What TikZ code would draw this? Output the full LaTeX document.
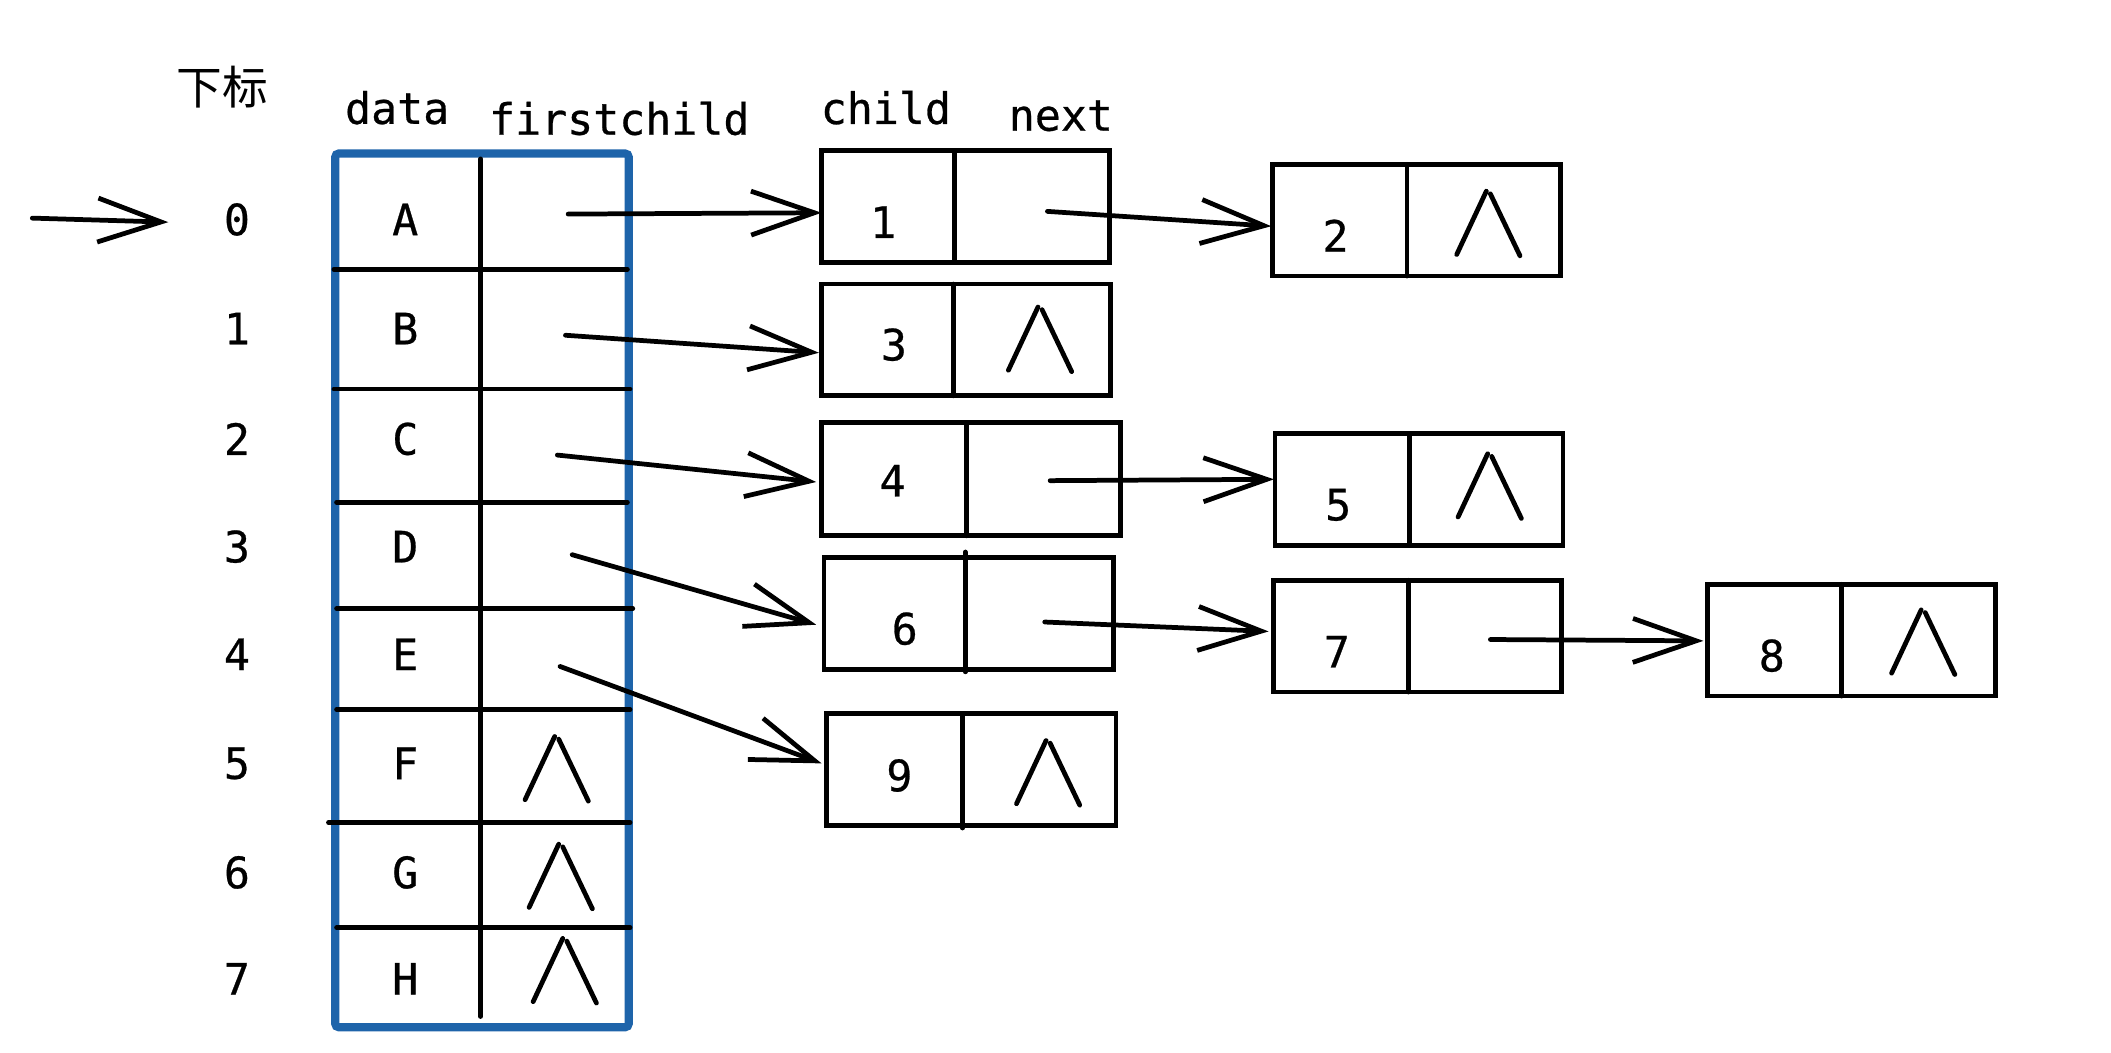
\documentclass[tikz,border=0pt]{standalone}
\usepackage{fontspec}
\newfontfamily\monof[FakeBold=0.6]{DejaVu Sans Mono}
\newfontfamily\cjkf{Noto Sans CJK SC}
\usetikzlibrary{arrows.meta,fit,calc}
\definecolor{tblue}{RGB}{30,100,170}
\begin{document}
\begin{tikzpicture}[x=0.013463cm,y=-0.013463cm,
  txt/.style={font=\monof\fontsize{12.3}{14}\selectfont, inner sep=0},
  ln/.style={line width=1.35pt, line cap=round},
  arr/.style={ln, -{Straight Barb[length=18pt,width=12.5pt,line width=1.35pt]}},
  box/.style={draw, line width=1.35pt, inner sep=0},
  nullmark/.pic={\draw[ln] (-23,23) -- (-1,-24); \draw[ln] (2,-22) -- (24,24);}
]
\useasboundingbox (0,0) rectangle (1568,781.4);

% headers
\node[font=\cjkf\fontsize{13}{15}\selectfont, inner sep=0] (hidx) at (165,65) {下标};
\node[txt] (hdata) at (295,80) {data};
\node[txt] (hfc) at (460,88) {firstchild};
\node[txt] (hchild) at (658,80) {child};
\node[txt] (hnext) at (788,86) {next};

% table
\node[fit={(249,114)(467,763)}, draw=tblue, line width=2.3pt, inner sep=0, rounded corners=1pt] (tbl) {};
\draw[ln] (357,118) -- (357,755);
\draw[ln] (248,200) -- (466,200);
\draw[ln] (248,289) -- (468,289);
\draw[ln] (250,373) -- (466,373);
\draw[ln] (250,452) -- (470,452);
\draw[ln] (250,527) -- (468,527);
\draw[ln] (244,611) -- (468,611);
\draw[ln] (250,689) -- (468,689);

% indices and data
\foreach \i/\L/\y in {0/A/163,1/B/244,2/C/326,3/D/406,4/E/486,5/F/567,6/G/648,7/H/727}{
  \node[txt] (i\i) at (176,\y) {\i};
  \node[txt] (d\L) at (301,\y) {\L};
}
\pic at (413,571) {nullmark};
\pic at (416,651) {nullmark};
\pic at (419,721) {nullmark};

% entry arrow
\coordinate (s0) at (24,162);
\coordinate (e0) at (125,165);
\draw[arr] (s0) -- (e0);

% child boxes
\node[box, fit={(610,112)(824,195)}] (b1) {};
\draw[ln] (709,112) -- (709,195);
\node[txt] (t1) at (656,165) {1};

\node[box, fit={(945,122)(1159,205)}] (b2) {};
\draw[ln] (1045,122) -- (1045,205);
\node[txt] (t2) at (992,175) {2};
\pic at (1105,166) {nullmark};

\node[box, fit={(610,211)(825,294)}] (b3) {};
\draw[ln] (708,211) -- (708,294);
\node[txt] (t3) at (664,256) {3};
\pic at (772,252) {nullmark};

\node[box, fit={(610,314)(832,398)}] (b4) {};
\draw[ln] (718,314) -- (718,398);
\node[txt] (t4) at (663,357) {4};

\node[box, fit={(947,322)(1161,405)}] (b5) {};
\draw[ln] (1047,322) -- (1047,405);
\node[txt] (t5) at (994,375) {5};
\pic at (1106,361) {nullmark};

\node[box, fit={(612,414)(827,497)}] (b6) {};
\draw[ln] (717,410) -- (717,499);
\node[txt] (t6) at (672,467) {6};

\node[box, fit={(946,431)(1160,514)}] (b7) {};
\draw[ln] (1046,431) -- (1046,514);
\node[txt] (t7) at (993,484) {7};

\node[box, fit={(1268,434)(1482,517)}] (b8) {};
\draw[ln] (1368,434) -- (1368,517);
\node[txt] (t8) at (1316,487) {8};
\pic at (1428,477) {nullmark};

\node[box, fit={(614,530)(829,613)}] (b9) {};
\draw[ln] (715,530) -- (715,615);
\node[txt] (t9) at (668,576) {9};
\pic at (778,574) {nullmark};

% pointers
\coordinate (pA) at (422,159);
\coordinate (pB) at (420,249);
\coordinate (pC) at (414,338);
\coordinate (pD) at (425,412);
\coordinate (pE) at (416,495);
\coordinate (p1) at (778,157);
\coordinate (p4) at (780,357);
\coordinate (p6) at (776,462);
\coordinate (p7) at (1107,475);

\draw[arr] (pA) -- ($(b1.west)+(2,4.5)$);
\draw[arr] (pB) -- ($(b3.west)+(0,9.5)$);
\draw[arr] (pC) -- ($(b4.west)+(-2,2)$);
\draw[arr] (pD) -- ($(b6.west)+(-4,8.5)$);
\draw[arr] (pE) -- ($(b9.west)+(-2,-4.5)$);
\draw[arr] (p1) -- ($(b2.west)+(1,4.5)$);
\draw[arr] (p4) -- ($(b5.west)+(1,-7.5)$);
\draw[arr] (p6) -- ($(b7.west)+(-2,-3.5)$);
\draw[arr] (p7) -- ($(b8.west)+(-1,0.5)$);
\end{tikzpicture}
\end{document}
